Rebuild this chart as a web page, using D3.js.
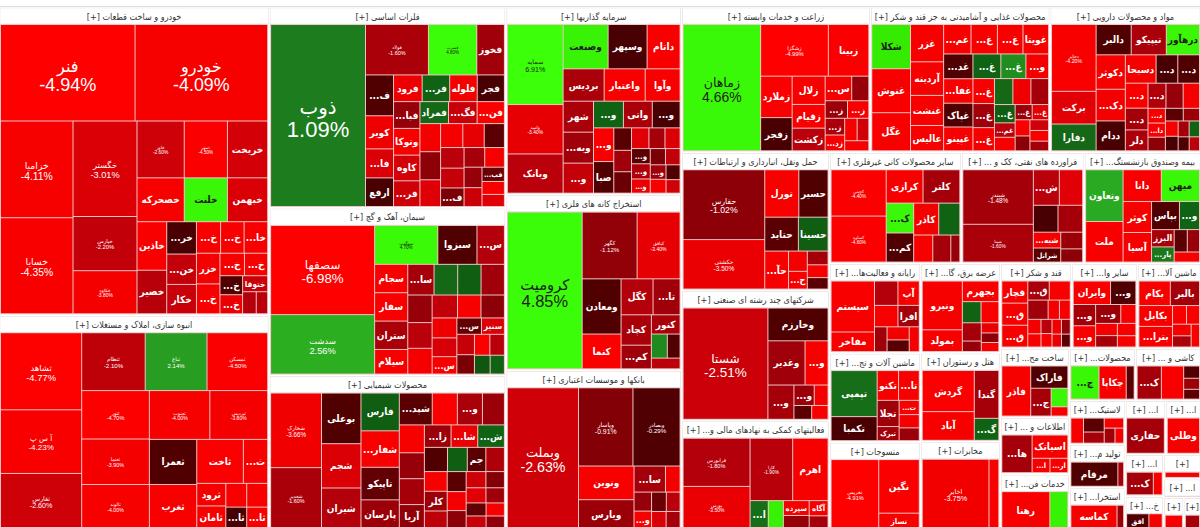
<!DOCTYPE html>
<html>
<head>
<meta charset="utf-8">
<script src="https://cdn.jsdelivr.net/npm/d3@7"></script>
<style>
  body { margin: 0; background: #fff; }
  svg { display: block; font-family: "Liberation Sans", "DejaVu Sans", sans-serif; }
</style>
</head>
<body>
<div id="chart"></div>
<script>
// sectors (market value)
let sectorNames = [
  'خودرو و ساخت قطعات', 'انبوه سازی، املاک و مستغلات', 'فلزات اساسی', 'سیمان، آهک و گچ',
  'محصولات شیمیایی', 'سرمایه گذاریها', 'استخراج کانه های فلزی', 'بانکها و موسسات اعتباری',
  'زراعت و خدمات وابسته', 'محصولات غذایی و آشامیدنی به جز قند و شکر', 'مواد و محصولات دارویی',
  'حمل ونقل، انبارداری و ارتباطات', 'شرکتهای چند رشته ای صنعتی', 'فعالیتهای کمکی به نهادهای مالی واسط',
  'سایر محصولات کانی غیرفلزی', 'فراورده های نفتی، کک و سوخت هسته ای', 'بیمه وصندوق بازنشستگی به جزتامین اجتماعی',
  'رایانه و فعالیت‌های وابسته به آن', 'عرضه برق، گاز، بخار و آب گرم', 'قند و شکر', 'سایر واسطه گریهای مالی',
  'ماشین آلات و دستگاه‌های برقی', 'ماشین آلات و تجهیزات', 'هتل و رستوران', 'ساخت محصولات فلزی',
  'محصولات کاغذی', 'کاشی و سرامیک', 'منسوجات', 'مخابرات', 'اطلاعات و ارتباطات', 'خدمات فنی و مهندسی',
  'لاستیک و پلاستیک', 'تولید محصولات کامپیوتری الکترونیکی ونوری', 'استخراج سایر معادن',
  'استخراج نفت گاز و خدمات جنبی جز اکتشاف', 'انتشار، چاپ و تکثیر', 'ساخت دستگاه‌ها و وسایل ارتباطی',
  'استخراج ذغال سنگ', 'خرده فروشی، به استثنای وسایل نقلیه موتوری', 'ابزارپزشکی، اپتیکی و اندازه‌گیری',
  'محصولات چوبی', 'محصولات چرمی'
];

let sectorValues = [
  83100, 57900, 47500, 39600, 36500, 32900, 30800, 28000,
  27360, 26064, 21888, 20424, 19240, 16132, 14630, 13640, 12980,
  8150, 7100, 6059, 5561, 5395, 8100, 7050, 4760, 3450, 3400, 8000, 7000, 3900, 3850,
  2450, 2400, 2350, 2200, 1900, 900, 1600, 1300, 700, 650, 550
];

// symbols per sector
let symbols = [
  ['فنر','خودرو','خزامیا','خسایا','خگستر','خپارس','خکاوه','خاور','خمهر','خریخت','خصحرکه','خلنت','خبهمن','خاذین','خصیر','خرینگ','خنیزل','خکار','خطوس','ختور','خاهن','خزر','خرامیا','خجوش','خودکفا','خمحور','خفناور','ختوقا','خموتور','خوساز'],
  ['ثشاهد','آ س پ','ثفارس','ثنظام','ثباغ','ثمسکن','ثنور','ثعتما','ثالوند','ثجنوب','ثپردیس','ثعمرا','ثغرب','ثاخت','ثنوسا','ثرود','ثامان','ثتران','ثوین','ثاژن','ثامید'],
  ['ذوب','فولاد','فسرب','فخوز','فسبزوار','کویر','فاسمین','ارفع','فرود','فرآور','فلوله','فجر','فباهنر','وتوکا','کاوه','فروی','فمراد','فگستر','فنتال','فولای','فسپا','فزرین','فالوم','فافزا','فپنتا','فروس','فنورد','فسازان','فغدیر','فلات','فجام','فایرا','فبستم','فرشید','فسدید'],
  ['سصفها','سدشت','سهگمت','سبزوا','سفارس','سجام','سفار','ستران','سیلام','ساروم','سهرمز','ساذری','سپاها','سارود','سکرما','سشرق','سخاش','سقاین','سدور','سغرب','سکرد','سبهان','سیدکو','سنیر','سخوز','سمازن','سیتا','سنوین','سصوفی','ساراب'],
  ['شخارک','شغدیر','بوعلی','شجم','شیران','فارس','شفارس','تاپیکو','پارسان','شپدیس','ساینا','وپترو','کرماشا','شاملا','شکلر','شیراز','آریا','زاگرس','شاراک','شکربن','شمواد','شفن','جم','شسینا','شگل','کلر','شصدف','شلعاب','شپلی','شرنگی','شدوص','شتوکا','شنفت','شکام','شاوان','شپاکسا','شبصیر','شوینده'],
  ['سمایه','وامید','وبانک','وصنعت','وسپهر','داتام','بردیس','واعتبار','وآوا','شهر','وبهمن','وسبحان','وسکاب','واتی','وتوصا','وهامون','صبا','وکادو','واحیا','ومشان','وبوعلی','وسنا','وسینا','وتوسم','وساپا','وسپه','ورنا','وصنا','وسدید','وکغدیر','وجامی','وسالت'],
  ['کرومیت','کگهر','کبافق','ومعادن','کنما','کگل','تاصیکو','کچاد','کمنگنز','کنور','کسرا','کپرور','کزغال'],
  ['وبملت','وپاسار','وبصادر','ونوین','ویارس','سامان','وخاور','وپست','وکار','وتجارت','وگردش','وشهر','ودی'],
  ['زماهان','زشگزا','زبینا','زملارد','زفجر','زلال','زقیام','زکشت','سیمرغ','زمگسا','زنگان','زپارس','زگلدشت','زدشت','زشریف','زکوثر','زفکا'],
  ['شکلا','غنوش','غگل','غزر','آردینه','غنشت','عالیس','غمینو','غگرجی','غمایه','غویتا','غدیس','غپاک','غفارس','غشهد','غپینو','غشهداب','وبشهر','غبشهر','غاذر','غپاذر','غدام','غچین','غسالم','غبهنوش','غمهرا','غکورش','غنیلی','غمارگ','غفاما','غشان','غیوان','غلپیرا','غدانه'],
  ['دجابر','برکت','دفارا','دالبر','تیپیکو','درهآور','دکوثر','دکیمی','ددام','دسبحا','دتولید','دتماد','دزهراوی','دسینا','دلر','دعبید','دپارس','دکپسول','دفرا','دامین','داسوه','دشیمی','دابور','دسانکو','دتهران','دلقما','دروز','دبالک','داوه'],
  ['حفارس','حکشتی','تورل','حسیر','حتاید','حسینا','حآفرین','حپارسا','حریل','حبندر','حتوکا','حاسا'],
  ['شستا','وخارزم','وغدیر','ونیکی','وصندوق','وآتوس','وپخش','وایرا','ومهان'],
  ['فرابورس','بورس','کارا','اهرم','اتکای','نماگر','سپرده','آتیه','آگاه','ارزش'],
  ['کچینی','کساوه','کرازی','کلتر','کساپا','کمرجان','کاذر','کگاز','کفرا','کهمدا','کپشیر'],
  ['شبندر','شپنا','شبریز','شسپا','شراز','شپاس','شبهرن','شرانل','شتران','رانفور'],
  ['وتعاون','ملت','دانا','میهن','کوثر','آسیا','بپاس','ومعلم','البرز','پارسیان','حافظ','ثالث','تجارت'],
  ['سیستم','مفاخر','فن آوا','آپ','سپیدار','افرا','مداران','رافزا','تاپکیش','پرداخت'],
  ['ونیرو','بمولد','بجهرم','وهور','بدماوند','بمپنا','بزاگرس','بکهنوج','بپیوند','بنیرو'],
  ['قچار','قشیر','قمرو','قاسم','قثابت','قلرست','قشهد','قنیشا','قپیرا','قهکمت','قزوین','قبستو','قصفها','قشرین','قتربت','قنقش'],
  ['وایران','ولغدر','ولکار','ولصنم','وکبهمن','ولملت','ولساپا','ولپارس','ولتجار','ولشرق'],
  ['بکام','بالبر','بکابل','بترانس','بشاریک','بسویچ','بنیان','بفجر','بایکا'],
  ['تپمپی','تکمبا','تکنو','تایرا','تجلا','تبرک','تشتاد','تفیرو','تیرا'],
  ['گردش','آباد','گندا','گکوثر'],
  ['فاذر','فاراک','جنن','فنوال','فلامی'],
  ['چکارن','چکاپا','چفیبر'],
  ['کسرام','کتراک','کحافظ','کیسون','کهرام'],
  ['نخریس','نگین','نساز'],
  ['اخابر','همراه'],
  ['های وب','اسیاتک','اپرداز','ارتباط'],
  ['رهنا','سرچشمه'],
  ['پاسا','پتایر','پلاسک','پکرمان','پسهند','پدرخش'],
  ['مرقام','تکتار'],
  ['کماسه','کدما'],
  ['حفاری'],
  ['وطلی'],
  ['لخزر'],
  ['کطبس','کپارس'],
  ['افق','رفاه'],
  ['اطلس'],
  ['چوب'],
  ['چرم']
];

// market value weights inside each sector
let weights = [
  [12960,12770,7000,6950,6100,3460,2750,2680,2450,2280,2070,1890,1760,1440,1290,960,900,870,760,740,740,720,700,550,520,430,430,400,300,250],
  [6300,5200,4500,3700,3600,3530,3300,3100,3000,2970,2840,2150,2100,2064,1075,660,660,500,500,450,450],
  [17850,3280,2520,1440,1184,960,840,830,790,760,760,750,730,730,700,700,650,650,620,600,600,570,550,530,500,500,480,450,420,400,380,350,330,300,280],
  [10350,6900,2740,1700,1190,1050,1050,1050,910,900,810,800,800,750,700,700,650,600,600,550,520,480,450,420,400,380,360,340,330,300],
  [3800,3100,2000,1750,1600,1450,1400,1250,1100,1050,800,800,700,700,650,650,600,600,600,600,560,480,450,450,450,450,400,380,360,340,320,300,300,280,260,250,240,230],
  [4700,2900,2300,2100,1820,1540,1400,1400,1190,990,990,960,840,810,780,720,675,420,400,380,400,350,330,300,300,280,260,250,240,230,220,200],
  [11450,3580,2800,2100,1320,1125,950,900,700,540,375,300,300],
  [10500,4470,3870,1960,1680,860,400,350,320,300,280,260,250],
  [10500,3750,2240,1400,1120,1000,840,800,700,450,420,400,350,330,300,280,260],
  [1720,1710,1480,1240,1116,1000,840,810,780,756,756,730,700,720,690,700,620,560,540,520,500,480,470,460,380,300,280,260,250,240,220,200,200,180],
  [2900,1420,1160,1036,1036,980,980,900,850,850,600,600,550,480,460,440,420,400,250,240,230,220,200,190,180,170,160,150,140],
  [6000,4250,1700,1460,1200,1060,950,400,350,300,280,250],
  [10000,2090,1740,1080,945,440,300,260,240],
  [3360,2940,2770,2300,530,440,400,350,300,250],
  [2620,2600,1260,1260,840,820,820,690,530,500,250],
  [4000,2770,960,860,690,690,450,400,380,300],
  [1980,1550,1240,1240,900,860,800,575,400,350,300,280,260],
  [2130,820,550,500,484,440,300,280,250,240],
  [1980,880,760,400,380,350,200,180,170,160],
  [660,660,650,470,460,450,250,240,220,200,180,170,160,150,140,130],
  [920,625,500,500,500,300,280,260,240,220],
  [890,825,810,800,300,280,250,240,220],
  [2064,1075,620,600,560,300,280,260,250],
  [2280,1590,1250,575],
  [1400,800,550,300,150],
  [920,890,260],
  [825,760,200,180,160],
  [3700,2450,700],
  [4900,720],
  [1200,875,270,270],
  [2000,750],
  [440,400,320,270,225,180],
  [1640,200],
  [1400,200],
  [1200],
  [1000],
  [300],
  [900,300],
  [500,300],
  [300],
  [300],
  [250]
];

// daily change, percent
let changes = [
  [-4.94,-4.09,-4.11,-4.35,-3.01,-2.2,-3.8,-2.6,-4.5,-2.8,-4.0,4.5,-3.0,-4.2,-1.9,-0.2,-2.2,-2.4,-4.2,-4.3,-4.0,-3.9,-4.2,-4.0,-4.1,-0.3,-3.5,-2.5,-1.8,-2.0],
  [-4.77,-4.23,-2.6,-2.1,2.14,-4.5,-4.7,-3.9,-4.0,-4.0,-3.8,-0.3,-4.3,-4.6,-4.2,-3.9,-4.1,-4.2,-4.3,-0.2,-4.0],
  [1.09,-1.6,4.8,-1.4,-0.3,-3.6,-3.0,-0.2,-3.6,0.6,-3.9,-0.2,-1.2,-4.1,-2.8,-2.6,0.7,-2.4,-4.5,-3.9,-1.0,-3.1,-3.9,-3.4,-0.4,-2.0,-2.3,-0.8,-1.5,-4.0,-1.2,-2.5,-0.6,-4.2,-3.2],
  [-6.98,2.56,4.7,-0.3,-1.8,-4.2,-4.3,-1.6,-4.0,-1.5,0.7,0.5,-1.4,-1.2,-2.0,-3.8,-2.2,-4.0,-1.0,-3.6,-2.9,-4.1,-0.5,-3.0,-2.3,-0.8,-4.4,-1.9,0.4,0.6],
  [-3.66,-1.6,-0.3,-3.0,-1.8,0.5,-4.2,-0.5,-1.3,-0.4,-4.5,-1.6,-1.3,-4.0,-1.2,-1.5,-1.1,-1.3,-3.5,0.6,-0.3,0.5,-0.4,-1.7,-4.0,-1.3,-2.1,-0.4,-3.8,-1.0,-2.6,-0.9,-3.2,-1.4,-0.5,-2.4,-4.0,-1.1],
  [6.91,-3.4,-2.0,4.3,-0.2,-4.3,-1.6,-4.3,-4.1,-1.6,-1.4,-2.3,0.6,-1.6,-0.2,-4.2,-0.3,-0.4,-1.4,-3.2,-0.6,-1.5,-3.0,-0.4,-1.7,-3.5,-0.8,-2.2,-1.4,-4.0,-0.3,-2.6],
  [4.85,-1.12,-3.4,-0.3,-4.5,-1.8,-1.4,-1.6,-1.4,-1.6,1.5,-0.3,-2.0],
  [-2.63,-0.91,-0.29,-4.0,-1.3,-1.5,-3.8,-1.2,-4.1,-0.6,-2.0,-3.0,-1.5],
  [4.66,-4.99,-4.5,-4.4,-0.2,-4.2,-4.3,-2.0,-3.8,-1.2,-1.3,-4.0,-1.6,-3.9,-4.2,-2.7,-4.1],
  [3.8,-4.3,-4.2,-4.0,-4.0,-4.1,-4.1,-4.2,-4.0,-4.3,-4.1,-0.3,-0.3,-4.0,0.6,-4.0,1.6,-3.8,-4.0,-1.4,-3.9,0.7,-3.6,-1.5,0.5,-2.0,-4.0,-1.3,-3.2,-4.2,-1.0,-2.6,-4.1,-1.5],
  [-4.2,-3.2,0.7,-0.3,-1.6,4.5,-4.0,-3.8,-0.2,-3.9,-0.2,-0.3,-4.2,-1.5,-1.6,-1.7,-1.2,-3.8,-4.0,-3.9,-1.0,-0.4,-1.3,-4.0,-0.2,-1.5,0.6,-0.3,-2.0],
  [-1.02,-3.5,-4.0,-0.3,-0.4,0.5,-4.0,-3.9,-4.1,-1.5,-4.0,-0.4],
  [-2.51,-0.3,-1.4,-4.0,-1.5,-1.3,-3.8,-0.4,-4.1],
  [-1.8,-3.5,-1.9,-4.0,0.8,4.2,-4.1,-1.2,-4.0,-1.5],
  [-4.4,-4.6,-4.3,-1.5,4.6,-0.3,-3.8,0.6,-4.0,-1.5,-1.2],
  [-1.48,-1.6,-2.0,-3.2,-0.2,-1.5,-3.8,-0.4,-1.3,-1.0],
  [2.5,-4.2,-4.2,4.5,-4.1,-4.0,-0.3,0.6,-1.5,1.0,-0.4,-1.2,-4.0],
  [-4.3,-4.3,-1.8,-4.2,-4.0,-1.5,-1.4,-3.9,-0.4,-3.8],
  [-4.0,-4.0,-4.2,0.6,-4.0,-1.5,-1.2,-3.5,-1.0,-4.0],
  [-4.2,-4.0,-4.1,-1.6,-4.0,-1.4,-3.9,-4.1,-3.8,-4.0,-2.0,-4.2,-3.7,-1.2,-3.5,-0.4],
  [-4.1,-0.3,-1.5,-4.0,-1.3,-4.2,-3.9,-1.5,-4.0,-4.1],
  [-4.3,-1.5,-4.1,-4.0,-4.2,-4.0,-3.8,-1.6,-4.1],
  [0.8,-0.2,-4.2,-4.0,-1.4,-1.5,-4.0,-3.8,-1.3],
  [-4.4,-4.0,-1.5,0.6],
  [-4.0,-0.3,-1.5,4.5,-3.9],
  [4.5,-4.2,-0.4],
  [-1.5,-4.3,-0.3,-1.3,-0.4],
  [-4.91,-4.5,-4.0],
  [-3.75,-4.0],
  [-1.5,-4.0,-4.1,-4.2],
  [-4.2,4.2],
  [-4.0,-0.4,-1.5,-4.1,-1.4,-4.0],
  [-0.3,-1.5],
  [-4.0,-1.3],
  [-1.5],
  [-4.0],
  [-4.0],
  [-1.5,-4.0],
  [-0.3,-4.0],
  [-4.0],
  [-4.0],
  [-1.5]
];

let chart_width  = 1200;
let chart_height = 527;
let map_top      = 8;
let map_bottom   = 529;
let header_h     = 16;
let farsi_font   = '"DejaVu Sans Condensed", "DejaVu Sans", sans-serif';

let svg = d3.select('#chart')
  .append('svg')
  .attr('width', chart_width)
  .attr('height', chart_height);

svg.append('line')
  .attr('x1', 0).attr('x2', chart_width)
  .attr('y1', map_top - 1.5).attr('y2', map_top - 1.5)
  .attr('stroke', '#dedede');

// colour scales
let neg_color = d3.scaleLinear()
  .domain([-5, -3.8, -2.8, -1.8, -1, 0])
  .range(['#ff0000', '#f40000', '#d40008', '#b4000a', '#8c0008', '#380000'])
  .clamp(true);
let pos_color = d3.scaleLinear()
  .domain([0, 0.5, 1.1, 2.5, 3.5, 5])
  .range(['#0d3d0d', '#0f5e12', '#1d7d1d', '#2aaa22', '#33e600', '#3cff0a'])
  .clamp(true);
let cell_color = c => c < 0 ? neg_color(c) : pos_color(c);
let text_color = c => c >= 3 ? '#1c1c1c' : '#ffffff';
let pct = c => c.toFixed(2) + '%';

// hierarchy
let tree = {
  name: 'بازار',
  children: sectorNames.map((s, i) => {
    let total = d3.sum(weights[i]);
    return {
      name: s,
      children: symbols[i].map((sym, j) => ({
        name: sym,
        value: sectorValues[i] * weights[i][j] / total,
        change: changes[i][j]
      }))
    };
  })
};

let root = d3.hierarchy(tree)
  .sum(d => d.children ? 0 : d.value)
  .sort((a, b) => b.value - a.value);

d3.treemap()
  .tile(d3.treemapSquarify.ratio(1))
  .size([chart_width, map_bottom - map_top])
  .paddingInner(d => d.depth === 0 ? 2 : 1)
  .paddingOuter(d => d.depth === 1 ? 1 : 0)
  .paddingTop(d => d.depth === 1 ? header_h + 1 : 0)
  (root);

let map = svg.append('g')
  .attr('transform', 'translate(0,' + map_top + ')');

function fit(text, label, max_w) {
  text.text(label);
  let n = label.length;
  while (n > 0 && text.node().getComputedTextLength() > max_w) {
    n--;
    text.text(n > 0 ? label.slice(0, n) + '...' : '');
  }
}

// sectors
let sectors = map.selectAll('g.sector')
  .data(root.children)
  .enter()
  .append('g')
  .attr('class', 'sector');

sectors.append('rect')
  .attr('x', d => d.x0)
  .attr('y', d => d.y0)
  .attr('width', d => d.x1 - d.x0)
  .attr('height', d => d.y1 - d.y0)
  .attr('fill', '#f0c4c4');

sectors.append('rect')
  .attr('x', d => d.x0)
  .attr('y', d => d.y0)
  .attr('width', d => d.x1 - d.x0)
  .attr('height', header_h)
  .attr('fill', '#ffffff')
  .attr('stroke', '#e2e2e2')
  .attr('stroke-width', 0.5);

sectors.append('text')
  .attr('x', d => (d.x0 + d.x1) / 2)
  .attr('y', d => d.y0 + 11.5)
  .attr('text-anchor', 'middle')
  .attr('direction', 'rtl')
  .style('unicode-bidi', 'embed')
  .attr('font-family', farsi_font)
  .attr('font-size', 9)
  .attr('fill', '#333')
  .each(function(d) {
    let t = d3.select(this);
    let w = d.x1 - d.x0 - 6;
    t.text(d.data.name + ' [+]');
    let n = d.data.name.length;
    while (n > 0 && this.getComputedTextLength() > w) {
      n--;
      t.text(d.data.name.slice(0, n) + '... [+]');
    }
    if (n === 0) t.text('[+]');
  });

// cells
let cells = map.selectAll('g.cell')
  .data(root.leaves())
  .enter()
  .append('g')
  .attr('class', 'cell');

cells.append('rect')
  .attr('x', d => d.x0)
  .attr('y', d => d.y0)
  .attr('width', d => Math.max(0, d.x1 - d.x0))
  .attr('height', d => Math.max(0, d.y1 - d.y0))
  .attr('fill', d => cell_color(d.data.change));

cells.each(function(d) {
  let g = d3.select(this);
  let w = d.x1 - d.x0, h = d.y1 - d.y0;
  let cx = (d.x0 + d.x1) / 2, cy = (d.y0 + d.y1) / 2;
  let fill = text_color(d.data.change);
  let area = w * h;

  if (area >= 2200 && w >= 36 && h >= 36) {
    let fs = Math.min(0.0013 * area + 1.5, 22, w / 3.4, h / 2.4);
    let name = g.append('text')
      .attr('x', cx)
      .attr('y', cy - fs * 0.05)
      .attr('text-anchor', 'middle')
      .attr('direction', 'rtl')
      .style('unicode-bidi', 'embed')
      .attr('font-family', '"DejaVu Sans", sans-serif')
      .attr('font-size', fs * 0.9)
      .attr('fill', fill)
      .text(d.data.name);
    let nw = name.node().getComputedTextLength();
    if (nw > w - 6) {
      name.attr('font-size', fs * 0.9 * (w - 6) / nw);
    }
    g.append('text')
      .attr('x', cx)
      .attr('y', cy + fs * 1.0)
      .attr('text-anchor', 'middle')
      .attr('font-size', fs)
      .attr('fill', fill)
      .text(pct(d.data.change));
  } else if (w >= 14 && h >= 13) {
    let fs = Math.min(10, h * 0.55);
    let t = g.append('text')
      .attr('x', cx)
      .attr('y', cy + fs * 0.35)
      .attr('text-anchor', 'middle')
      .attr('direction', 'rtl')
      .style('unicode-bidi', 'embed')
      .attr('font-family', farsi_font)
      .attr('font-size', fs)
      .attr('font-weight', 'bold')
      .attr('fill', fill);
    fit(t, d.data.name, w - 2);
  }
});
</script>
</body>
</html>
